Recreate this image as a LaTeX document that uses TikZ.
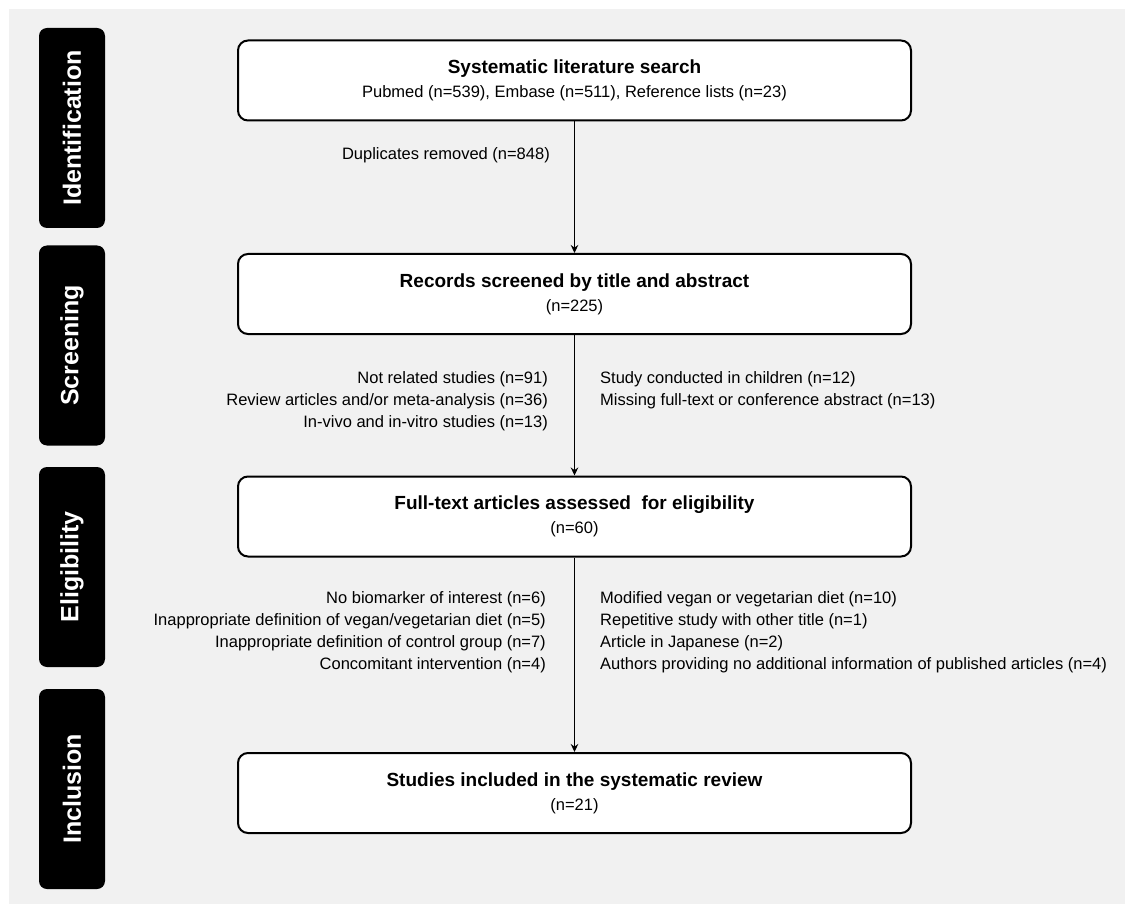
\documentclass[tikz,border=0pt]{standalone}
\usepackage{fontspec}
\setmainfont{Liberation Sans}
\usetikzlibrary{arrows.meta}
\definecolor{bggray}{HTML}{F1F1F1}

\begin{document}
\begin{tikzpicture}[x=1pt,y=-1pt,
  stage/.style={shape=rectangle,rounded corners=8pt,fill=black,text=white,rotate=90,
    minimum width=200pt,minimum height=66pt,inner sep=0pt,font=\fontsize{25}{30}\selectfont\bfseries},
  flowbox/.style={shape=rectangle,rounded corners=10pt,draw,line width=2pt,fill=white,
    minimum width=673pt,minimum height=80pt,align=center,font=\fontsize{16.5}{24}\selectfont},
  note/.style={inner sep=0pt,font=\fontsize{16.5}{22}\selectfont}]
\useasboundingbox (0,0) rectangle (1125,904);
\fill [bggray] (9,9) rectangle (1125,904);
% phase labels
\path node (ident) at (72,128)   [stage] {Identification}
      node (scr)   at (72,345.5) [stage] {Screening}
      node (elig)  at (72,567)   [stage] {Eligibility}
      node (incl)  at (72,789)   [stage] {Inclusion};
% flow boxes
\path node (search) at (574.5,80.5) [flowbox] {{\fontsize{19}{24}\selectfont\bfseries Systematic literature search}\\Pubmed (n=539), Embase (n=511), Reference lists (n=23)}
      node (screen) at (574.5,294)  [flowbox] {{\fontsize{19}{24}\selectfont\bfseries Records screened by title and abstract}\\(n=225)}
      node (full)   at (574.5,516.5) [flowbox] {{\fontsize{19}{24}\selectfont\bfseries Full-text articles assessed\ \ for eligibility}\\(n=60)}
      node (incd)   at (574.5,793)  [flowbox] {{\fontsize{19}{24}\selectfont\bfseries Studies included in the systematic review}\\(n=21)};
\draw [->,line width=1.4pt,>={Stealth[length=8pt,width=7.5pt]}] (search) to (screen);
\draw [->,line width=1.4pt,>={Stealth[length=8pt,width=7.5pt]}] (screen) to (full);
\draw [->,line width=1.4pt,>={Stealth[length=8pt,width=7.5pt]}] (full) to (incd);
% exclusions
\path node (dup) at (550,155) [note,anchor=east] {Duplicates removed (n=848)}
      node (scrl) at (548,371.5) [note,anchor=north east,align=right] {Not related studies (n=91)\\Review articles and/or meta-analysis (n=36)\\In-vivo and in-vitro studies (n=13)}
      node (scrr) at (600,371.5) [note,anchor=north west,align=left] {Study conducted in children (n=12)\\Missing full-text or conference abstract (n=13)}
      node (elil) at (546,591) [note,anchor=north east,align=right] {No biomarker of interest (n=6)\\Inappropriate definition of vegan/vegetarian diet (n=5)\\Inappropriate definition of control group (n=7)\\Concomitant intervention (n=4)}
      node (elir) at (600,591) [note,anchor=north west,align=left] {Modified vegan or vegetarian diet (n=10)\\Repetitive study with other title (n=1)\\Article in Japanese (n=2)\\Authors providing no additional information of published articles (n=4)};
\end{tikzpicture}
\end{document}
